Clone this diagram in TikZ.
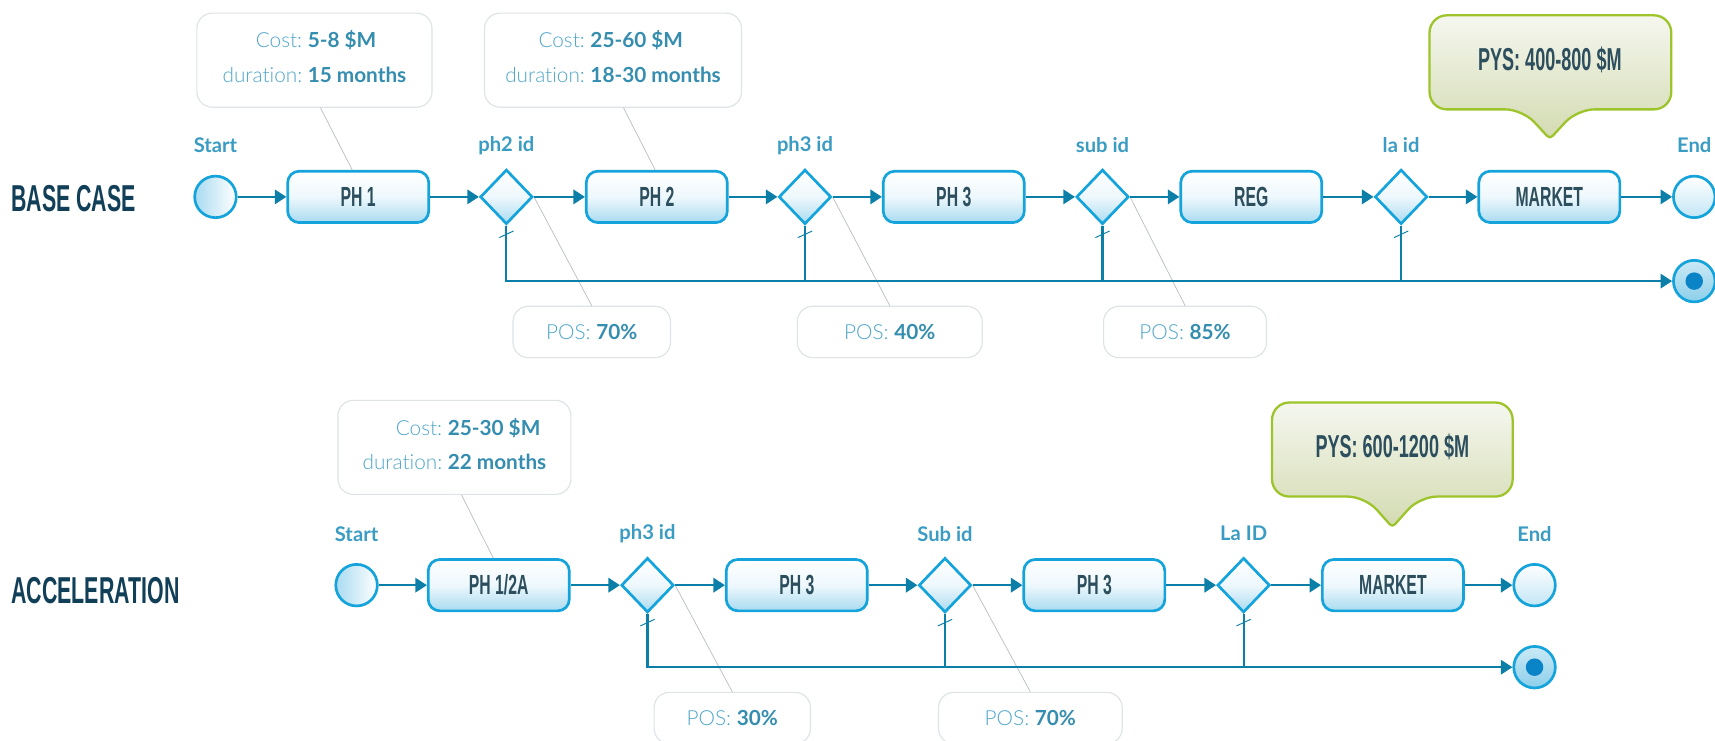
\documentclass[tikz,border=0pt]{standalone}
\usepackage{fontspec}
\setmainfont{Lato}
\newfontfamily\latolight[Ligatures=NoCommon]{Lato Light}
\newfontfamily\bebas[FakeStretch=0.57]{Liberation Sans}
\usetikzlibrary{shapes.geometric,arrows.meta}

\definecolor{edgeblue}{HTML}{14A3DB}
\definecolor{flowblue}{HTML}{0C7FA8}
\definecolor{paleblue}{HTML}{A9DBF1}
\definecolor{inkslate}{HTML}{2C4E5D}
\definecolor{rownavy}{HTML}{123F58}
\definecolor{tagblue}{HTML}{3B9CC3}
\definecolor{softblue}{HTML}{4FA6CB}
\definecolor{greyline}{HTML}{DDE3E6}
\definecolor{leafgreen}{HTML}{9DC42B}
\definecolor{sagetop}{HTML}{F5F7EF}
\definecolor{sagebot}{HTML}{D3DBB1}
\definecolor{dotblue}{HTML}{0A84C6}
\definecolor{ringblue}{HTML}{8CCFEA}

\tikzset{
  phase/.style={draw=edgeblue, line width=1.4pt, rounded corners=6pt, minimum width=2.58cm, minimum height=0.94cm, inner sep=0pt,
    top color=white, bottom color=paleblue, middle color=paleblue!20, text=inkslate, font=\bebas\bfseries\fontsize{14.4}{16}\selectfont},
  gate/.style={diamond, draw=edgeblue, line width=1.4pt, minimum width=0.96cm, minimum height=1cm, inner sep=0pt,
    top color=white, bottom color=paleblue, middle color=paleblue!20},
  startev/.style={circle, draw=edgeblue, line width=1.4pt, minimum size=0.76cm, inner sep=0pt, left color=paleblue, right color=white},
  endev/.style={circle, draw=edgeblue, line width=1.4pt, minimum size=0.76cm, inner sep=0pt, top color=white, bottom color=paleblue!70},
  failev/.style={circle, draw=edgeblue, line width=1.4pt, minimum size=0.76cm, inner sep=0pt, top color=ringblue!45, bottom color=ringblue,
    path picture={\fill[dotblue] (path picture bounding box.center) circle (0.16cm);}},
  flow/.style={draw=flowblue, line width=1.1pt, -{Triangle[length=6pt,width=7.5pt]}},
  drop/.style={draw=flowblue, line width=1.1pt},
  tick/.style={draw=flowblue, line width=0.5pt},
  tag/.style={text=tagblue, font=\bfseries\fontsize{10.5}{12}\selectfont},
  info/.style={draw=greyline, line width=0.6pt, rounded corners=8pt, fill=white, inner sep=0pt, text=softblue, font=\latolight\fontsize{10.8}{12}\selectfont},
  lead/.style={draw=greyline!85!black, line width=0.4pt},
  rowname/.style={anchor=west, inner sep=0pt, text=rownavy, font=\bebas\bfseries\fontsize{19.5}{22}\selectfont},
  callout/.style={draw=leafgreen, line width=1.2pt, rounded corners=9pt, top color=sagetop, bottom color=sagebot},
  payoff/.style={text=inkslate, font=\bebas\bfseries\fontsize{16.5}{18}\selectfont},
}
\newcommand\val[1]{{\normalfont\bfseries\fontsize{10.8}{12}\selectfont\color{tagblue!90!black}#1}}

\begin{document}
\begin{tikzpicture}[x=0.02cm, y=-0.02cm]
\useasboundingbox (0,0) rectangle (1568,677);

% base case
\node[rowname] (base) at (10,182) {BASE CASE};
\node[startev] (s1) at (197,180) {};
\node[tag] (s1t) at (197,133) {Start};
\node[phase] (p11) at (327.5,180) {PH 1};
\node[gate] (g11) at (463,180) {};
\node[tag] (g11t) at (463,133) {ph2 id};
\node[phase] (p12) at (600.5,180) {PH 2};
\node[gate] (g12) at (736,180) {};
\node[tag] (g12t) at (736,133) {ph3 id};
\node[phase] (p13) at (872,180) {PH 3};
\node[gate] (g13) at (1008,180) {};
\node[tag] (g13t) at (1008,133) {sub id};
\node[phase] (p14) at (1144,180) {REG};
\node[gate] (g14) at (1281,180) {};
\node[tag] (g14t) at (1281,133) {la id};
\node[phase] (p15) at (1416.5,180) {MARKET};
\node[endev] (e1) at (1549,180) {};
\node[tag] (e1t) at (1549,133) {End};
\node[failev] (f1) at (1549,257) {};

\node[info, minimum width=4.3cm, minimum height=1.72cm] (c11) at (287.5,55)
  {\begin{tabular}{@{}r@{\ }l@{}}Cost: & \val{5-8 \$M}\\[6pt] duration: & \val{15 months}\end{tabular}\hspace{0.3cm}};
\node[info, minimum width=4.7cm, minimum height=1.72cm] (c12) at (560.5,55)
  {\begin{tabular}{@{}r@{\ }l@{}}Cost: & \val{25-60 \$M}\\[6pt] duration: & \val{18-30 months}\end{tabular}\hspace{0.08cm}};
\node[info, minimum width=2.88cm, minimum height=0.94cm] (q11) at (541,303.5) {POS: \val{70\%}};
\node[info, minimum width=3.38cm, minimum height=0.94cm] (q12) at (813.5,303.5) {POS: \val{40\%}};
\node[info, minimum width=2.98cm, minimum height=0.94cm] (q13) at (1083.5,303.5) {POS: \val{85\%}};

\draw[callout] (1417,14) -- (1528,14) -- (1528,100) -- (1442,100) [rounded corners=2pt] -- (1417,127) [rounded corners=9pt] -- (1392,100) -- (1307,100) -- (1307,14) -- cycle;
\node[payoff] (y1) at (1417,55) {PYS: 400-800 \$M};

\draw[lead] ([shift={(5.5,0)}]c11.south) -- ([shift={(-5.5,0)}]p11.north);
\draw[lead] ([shift={(9.5,0)}]c12.south) -- ([shift={(-1.5,0)}]p12.north);
\draw[lead] (g11.east) -- (q11.north);
\draw[lead] (g12.east) -- (q12.north);
\draw[lead] (g13.east) -- (q13.north);

\draw[flow] (s1) -- (p11);
\draw[flow] (p11) -- (g11);
\draw[flow] (g11) -- (p12);
\draw[flow] (p12) -- (g12);
\draw[flow] (g12) -- (p13);
\draw[flow] (p13) -- (g13);
\draw[flow] (g13) -- (p14);
\draw[flow] (p14) -- (g14);
\draw[flow] (g14) -- (p15);
\draw[flow] (p15) -- (e1);
\draw[flow] (g11) |- (f1);
\draw[drop] (g12) -- (g12 |- f1);
\draw[drop] (g13) -- (g13 |- f1);
\draw[drop] (g14) -- (g14 |- f1);

% acceleration
\node[rowname] (accel) at (10,540) {ACCELERATION};
\node[startev] (s2) at (326,535) {};
\node[tag] (s2t) at (326,488) {Start};
\node[phase] (p21) at (456,535) {PH 1/2A};
\node[gate] (g21) at (592,535) {};
\node[tag] (g21t) at (592,488) {ph3 id};
\node[phase] (p22) at (728.5,535) {PH 3};
\node[gate] (g22) at (864,535) {};
\node[tag] (g22t) at (864,488) {Sub id};
\node[phase] (p23) at (1000.5,535) {PH 3};
\node[gate] (g23) at (1137,535) {};
\node[tag] (g23t) at (1137,488) {La ID};
\node[phase] (p24) at (1273.5,535) {MARKET};
\node[endev] (e2) at (1403,535) {};
\node[tag] (e2t) at (1403,488) {End};
\node[failev] (f2) at (1403,610) {};

\node[info, minimum width=4.26cm, minimum height=1.72cm] (c21) at (415.5,409)
  {\begin{tabular}{@{}r@{\ }l@{}}Cost: & \val{25-30 \$M}\\[6pt] duration: & \val{22 months}\end{tabular}\hspace{0.22cm}};
\node[info, minimum width=2.86cm, minimum height=0.94cm] (q21) at (669.5,656.5) {POS: \val{30\%}};
\node[info, minimum width=3.36cm, minimum height=0.94cm] (q22) at (942,656.5) {POS: \val{70\%}};

\draw[callout] (1273,368) -- (1383,368) -- (1383,454) -- (1298,454) [rounded corners=2pt] -- (1273,482) [rounded corners=9pt] -- (1248,454) -- (1163,454) -- (1163,368) -- cycle;
\node[payoff] (y2) at (1273,409) {PYS: 600-1200 \$M};

\draw[lead] ([shift={(6.5,0)}]c21.south) -- ([shift={(-5,0)}]p21.north);
\draw[lead] (g21.east) -- (q21.north);
\draw[lead] (g22.east) -- (q22.north);

\draw[flow] (s2) -- (p21);
\draw[flow] (p21) -- (g21);
\draw[flow] (g21) -- (p22);
\draw[flow] (p22) -- (g22);
\draw[flow] (g22) -- (p23);
\draw[flow] (p23) -- (g23);
\draw[flow] (g23) -- (p24);
\draw[flow] (p24) -- (e2);
\draw[flow] (g21) |- (f2);
\draw[drop] (g22) -- (g22 |- f2);
\draw[drop] (g23) -- (g23 |- f2);

\foreach \g in {g11,g12,g13,g14,g21,g22,g23}
  \draw[tick] ([shift={(-6.5,11)}]\g.south) -- ++(13,-6);
\end{tikzpicture}
\end{document}
